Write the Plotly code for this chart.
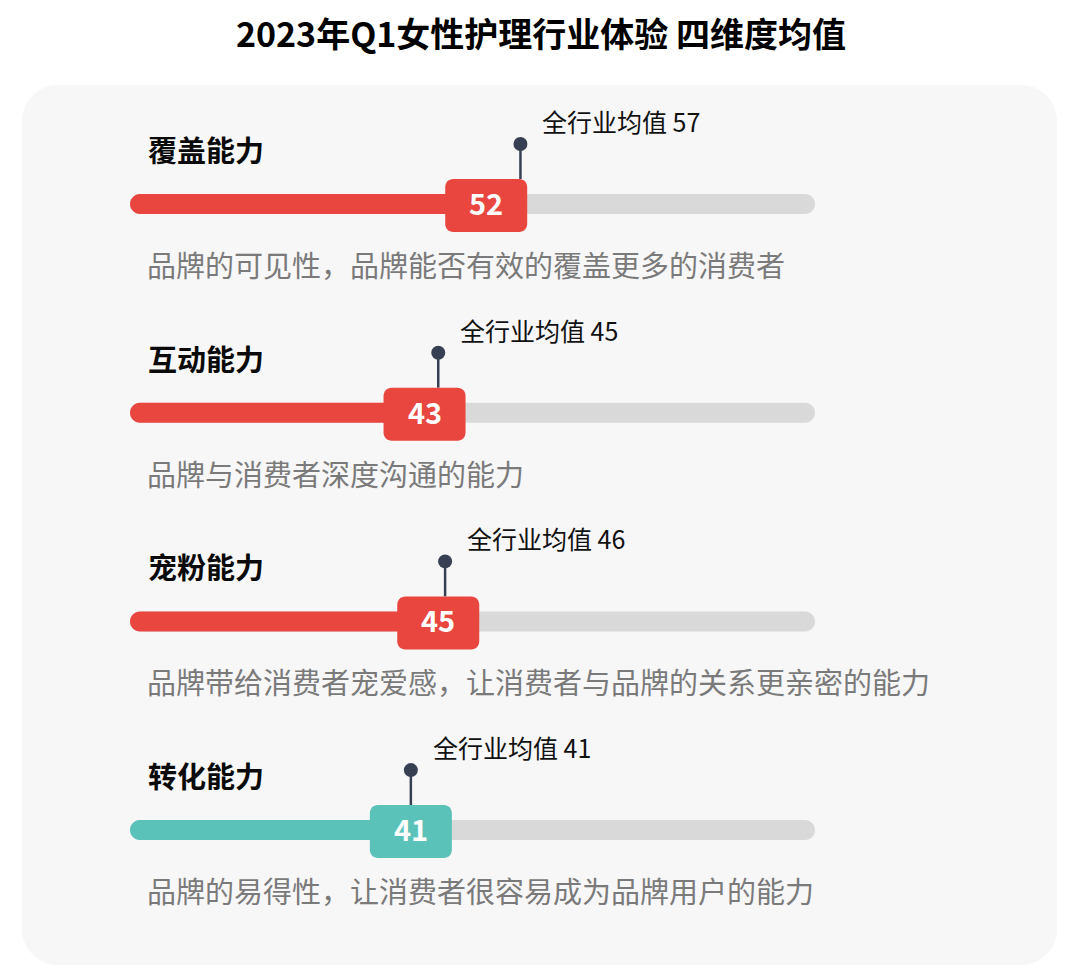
import plotly.graph_objects as go

# data
dims = ['覆盖能力', '互动能力', '宠粉能力', '转化能力']
scores = [52, 43, 45, 41]
industry_avg = [57, 45, 46, 41]
descs = ['品牌的可见性，品牌能否有效的覆盖更多的消费者',
         '品牌与消费者深度沟通的能力',
         '品牌带给消费者宠爱感，让消费者与品牌的关系更亲密的能力',
         '品牌的易得性，让消费者很容易成为品牌用户的能力']
bar_colors = ['#EA4640', '#EA4640', '#EA4640', '#5BC2B9']
scale_max = 100

W, H = 1080, 977
OFF = 8                     # page body margin, shift everything back
X0, K = 130 - OFF, 6.85     # pixel of value 0, pixels per unit
ROW0, STEP = 204 - OFF, 208.7
FONT = 'Noto Sans CJK SC'


def rrect(x0, x1, y0, y1, rpx):
    # rounded rect path, x in data units, y in pixels
    rx, ry = rpx / K, rpx
    c = 0.5523
    return (f'M{x0+rx},{y0} L{x1-rx},{y0} '
            f'C{x1-rx+rx*c},{y0} {x1},{y0+ry-ry*c} {x1},{y0+ry} '
            f'L{x1},{y1-ry} '
            f'C{x1},{y1-ry+ry*c} {x1-rx+rx*c},{y1} {x1-rx},{y1} '
            f'L{x0+rx},{y1} '
            f'C{x0+rx-rx*c},{y1} {x0},{y1-ry+ry*c} {x0},{y1-ry} '
            f'L{x0},{y0+ry} '
            f'C{x0},{y0+ry-ry*c} {x0+rx-rx*c},{y0} {x0+rx},{y0} Z')


def paper_rrect(x0, x1, y0, y1, r):
    # rounded rect in paper coords from pixel values
    px = lambda v: v / W
    py = lambda v: 1 - v / H
    c = 0.5523
    return (f'M{px(x0+r)},{py(y0)} L{px(x1-r)},{py(y0)} '
            f'C{px(x1-r+r*c)},{py(y0)} {px(x1)},{py(y0+r-r*c)} {px(x1)},{py(y0+r)} '
            f'L{px(x1)},{py(y1-r)} '
            f'C{px(x1)},{py(y1-r+r*c)} {px(x1-r+r*c)},{py(y1)} {px(x1-r)},{py(y1)} '
            f'L{px(x0+r)},{py(y1)} '
            f'C{px(x0+r-r*c)},{py(y1)} {px(x0)},{py(y1-r+r*c)} {px(x0)},{py(y1-r)} '
            f'L{px(x0)},{py(y0+r)} '
            f'C{px(x0)},{py(y0+r-r*c)} {px(x0+r-r*c)},{py(y0)} {px(x0+r)},{py(y0)} Z')


fig = go.Figure()
shapes = [dict(type='path', xref='paper', yref='paper',
               path=paper_rrect(22 - OFF, 1057 - OFF, 85 - OFF, 965 - OFF, 36),
               fillcolor='#F7F7F7', line_width=0, layer='below')]
annotations = []

bw = 41 / K  # half badge width in units
for i, (d, s, a, t, col) in enumerate(zip(dims, scores, industry_avg, descs, bar_colors)):
    ty = ROW0 + i * STEP
    # track and fill
    shapes.append(dict(type='path', path=rrect(0, scale_max, ty - 10, ty + 10, 10),
                       fillcolor='#D9D9D9', line_width=0, layer='below'))
    shapes.append(dict(type='path', path=rrect(0, s, ty - 10, ty + 10, 10),
                       fillcolor=col, line_width=0, layer='below'))
    # avg marker line
    shapes.append(dict(type='line', x0=a, x1=a, y0=ty - 60, y1=ty - 25,
                       line=dict(color='#373F52', width=2.5), layer='below'))
    # badge
    shapes.append(dict(type='path', path=rrect(s - bw, s + bw, ty - 25, ty + 28, 8),
                       fillcolor=col, line_width=0, layer='below'))

    annotations.append(dict(x=s, y=ty - 2, xref='x', yref='y', text=str(s), showarrow=False,
                            font=dict(family=FONT, size=29, color='white', weight='bold')))
    annotations.append(dict(x=a + 20 / K, y=ty - 83, xref='x', yref='y',
                            text=f'全行业均值 {a}', showarrow=False, xanchor='left',
                            font=dict(family=FONT, size=25, color='#111111')))
    annotations.append(dict(x=(146 - OFF) / W, y=ty - 55, xref='paper', yref='y', text=d,
                            showarrow=False, xanchor='left',
                            font=dict(family=FONT, size=29, color='#0A0A0A', weight='bold')))
    annotations.append(dict(x=(145 - OFF) / W, y=ty + 60, xref='paper', yref='y', text=t,
                            showarrow=False, xanchor='left',
                            font=dict(family=FONT, size=29, color='#7A7A7A')))

fig.add_trace(go.Scatter(x=industry_avg, y=[ROW0 + i * STEP - 60 for i in range(len(dims))],
                         mode='markers', marker=dict(size=14, color='#373F52'),
                         hoverinfo='skip', showlegend=False))

fig.update_layout(
    width=W, height=H,
    margin=dict(l=0, r=0, t=0, b=0),
    paper_bgcolor='white', plot_bgcolor='rgba(0,0,0,0)',
    title=dict(text='2023年Q1女性护理行业体验 四维度均值', x=(541 - OFF) / W, xanchor='center',
               y=1 - (35 - OFF) / H, yanchor='middle',
               font=dict(family=FONT, size=34, color='#000000', weight='bold')),
    xaxis=dict(range=[-X0 / K, (W - X0) / K], visible=False, fixedrange=True),
    yaxis=dict(range=[H, 0], visible=False, fixedrange=True),
    shapes=shapes, annotations=annotations,
)

fig.write_html('out.html')
